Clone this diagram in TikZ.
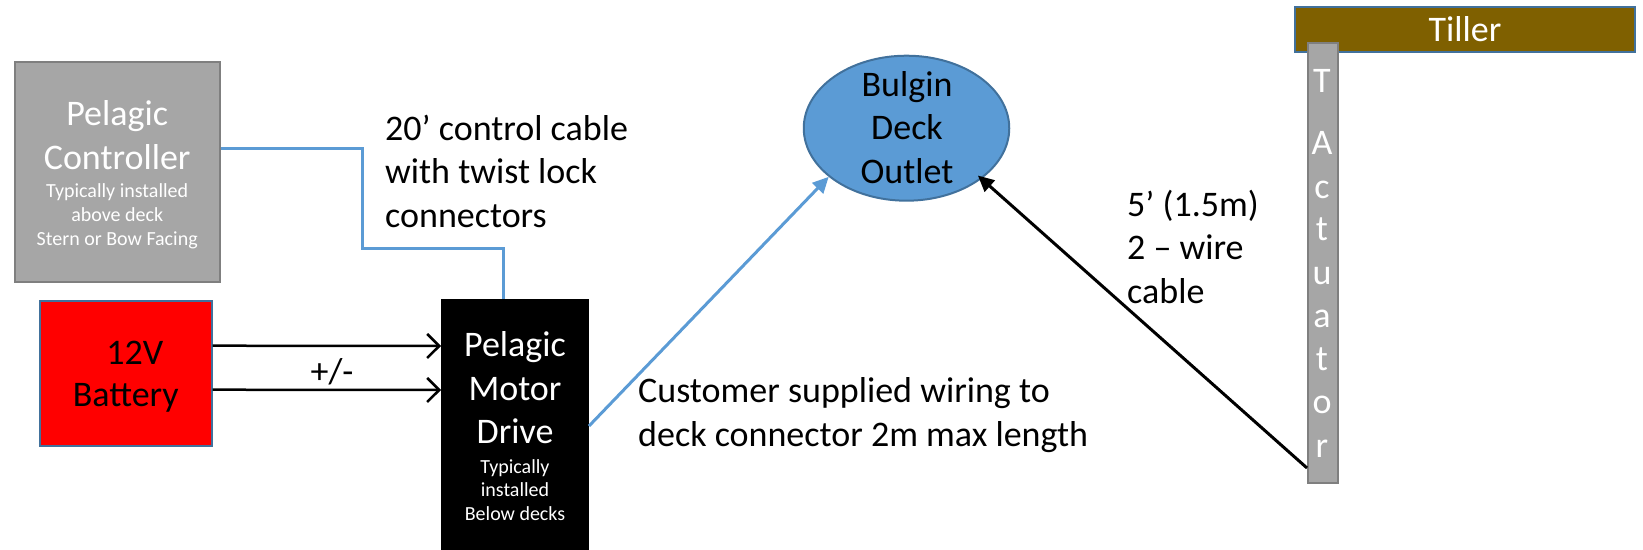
\documentclass[tikz,border=0pt]{standalone}
\usepackage{fontspec}
\setmainfont{Carlito}
\usetikzlibrary{arrows.meta,calc,shapes.geometric}
\definecolor{cblue}{HTML}{5B9BD5}
\definecolor{cedge}{HTML}{41719C}
\definecolor{cgray}{HTML}{A6A6A6}
\definecolor{cgrayedge}{HTML}{7F7F7F}
\definecolor{ctiller}{HTML}{7F6000}
\newcommand\fbig{\fontsize{36}{43.5}\selectfont}
\newcommand\fsmall{\fontsize{20}{24}\selectfont}
\begin{document}
\begin{tikzpicture}[x=1pt,y=-1pt,
  box/.style={rectangle,inner sep=0pt,line width=2pt,anchor=center,align=center,font=\fbig},
  boxtext/.style={align=center,font=\fbig,inner sep=0pt,anchor=base},
  lbl/.style={font=\fbig,align=left,inner sep=0pt,anchor=base west},
  ctl/.style={draw=cblue,line width=3pt},
  pwr/.style={draw=black,line width=2.5pt,-{Straight Barb[length=12pt,width=24pt]}},
  feed/.style={line width=3pt,-{Triangle[length=16pt,width=15pt]}}]
\useasboundingbox (0,0) rectangle (1643,549);
% boxes
\node[box,draw=cgrayedge,fill=cgray,minimum width=205.5pt,minimum height=220pt] (ctrl) at (117.3,171.7) {};
\node[boxtext,text=white] (ctrltxt) at (117.2,245.7)
  {Pelagic\\Controller\\[-15pt]\fsmall Typically installed\\[-19.5pt]\fsmall above deck\\[-19.5pt]\fsmall Stern or Bow Facing};
\node[box,draw=cedge,fill=red,minimum width=171.7pt,minimum height=145pt] (bat) at (125.85,373.2) {};
\node[boxtext,text=black] (battxt) at (125.8,406) {\hspace*{18pt}12V\\[-2pt]Battery};
\node[box,draw=black,fill=black,text=white,minimum width=146pt,minimum height=252pt] (motor) at (515,426)
  {Pelagic\\Motor\\Drive\\[-14pt]\fsmall Typically\\[-20pt]\fsmall installed\\[-20pt]\fsmall Below decks};
\node[ellipse,draw=cedge,line width=2pt,fill=cblue,inner sep=0pt,minimum width=205.5pt,minimum height=145pt] (bulgin) at (906.5,128.2) {};
\node[boxtext] (bulgintxt) at (907,183.3) {Bulgin\\Deck\\Outlet};
\node[box,draw=cedge,fill=ctiller,text=white,minimum width=340pt,minimum height=45pt] (tiller) at (1465,29.5) {Tiller};
\node[box,draw=cgrayedge,fill=cgray,minimum width=30pt,minimum height=440pt] (act) at (1323,263) {};
\foreach \ch/\yy [count=\i] in {T/92,A/154,c/198,t/240,u/284,a/327,t/370,o/413,r/457}
  \node[font=\fbig,text=white,anchor=base,inner sep=0pt] (act\i) at (1322,\yy) {\ch};
% connectors
\draw[ctl] ($(ctrl.north east)+(0,88)$) -| (362,248) -| ($(motor.north)+(-11.3,0)$);
\draw[pwr] ($(bat.north east)+(0,46)$) -- ($(motor.north west)+(0,47)$);
\draw[pwr] ($(bat.north east)+(0,90)$) -- ($(motor.north west)+(0,91)$);
\draw[feed,draw=cblue,fill=cblue] (motor.east) -- (bulgin.212);
\draw[feed,draw=black,fill=black,shorten >=-5pt] ($(act.south west)+(0,-16)$) -- (bulgin.-34);
% labels
\node[font=\fbig,inner sep=0pt] (pm) at (332,372) {+/-};
\node[lbl] (cablelbl) at (385,227) {20’ control cable\\with twist lock\\connectors};
\node[lbl] (custlbl) at (638,446) {Customer supplied wiring to\\deck connector 2m max length};
\node[lbl] (actlbl) at (1127,303) {5’ (1.5m)\\2 – wire\\cable};
\end{tikzpicture}
\end{document}
